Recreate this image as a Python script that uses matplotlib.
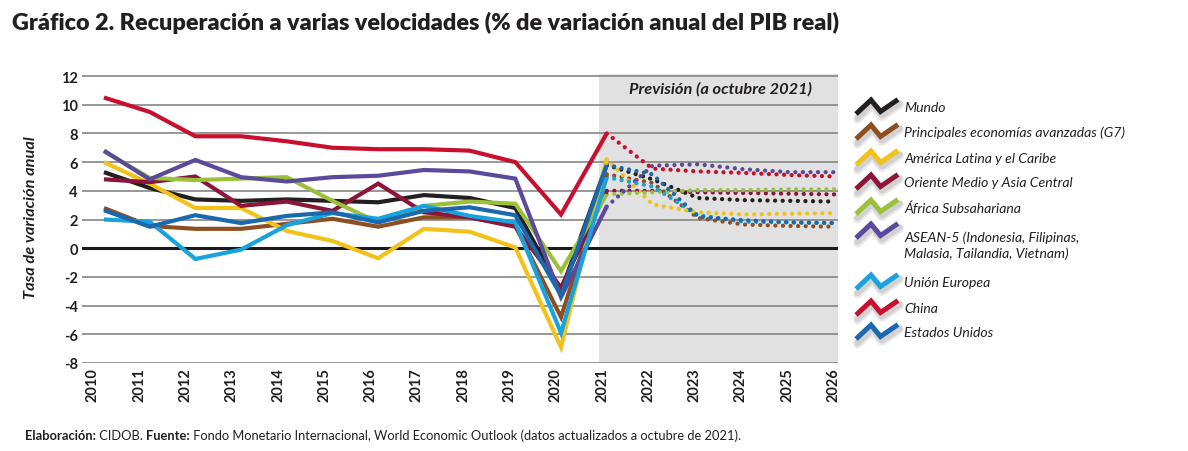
import matplotlib
matplotlib.use("Agg")
import matplotlib.pyplot as plt
from matplotlib import font_manager

# ---------------- data ----------------
years = list(range(2010, 2027))
forecast_start = 2021

series_names = [
    "Mundo",
    "Principales economías avanzadas (G7)",
    "América Latina y el Caribe",
    "Oriente Medio y Asia Central",
    "África Subsahariana",
    "ASEAN-5 (Indonesia, Filipinas,\nMalasia, Tailandia, Vietnam)",
    "Unión Europea",
    "China",
    "Estados Unidos",
]

mundo   = [5.3, 4.2, 3.4, 3.3, 3.4, 3.3, 3.2, 3.7, 3.5, 2.8, -3.0, 5.8, 4.8, 3.5, 3.35, 3.3, 3.25]
g7      = [2.8, 1.55, 1.35, 1.35, 1.7, 2.05, 1.5, 2.15, 2.15, 1.55, -4.8, 5.15, 4.55, 2.1, 1.65, 1.55, 1.5]
latam   = [6.0, 4.5, 2.8, 2.8, 1.2, 0.5, -0.7, 1.35, 1.15, 0.05, -6.9, 6.2, 3.05, 2.5, 2.35, 2.4, 2.45]
oriente = [4.8, 4.6, 5.0, 2.95, 3.25, 2.6, 4.5, 2.5, 2.15, 1.5, -2.75, 4.0, 4.0, 3.9, 3.85, 3.8, 3.75]
africa  = [6.75, 4.9, 4.75, 4.85, 4.95, 3.3, 1.8, 2.95, 3.25, 3.1, -1.6, 3.75, 3.9, 4.05, 4.05, 4.1, 4.1]
asean   = [6.8, 4.8, 6.15, 4.95, 4.65, 4.95, 5.05, 5.45, 5.35, 4.85, -3.4, 2.9, 5.75, 5.85, 5.5, 5.3, 5.3]
ue      = [2.0, 1.85, -0.75, -0.1, 1.6, 2.45, 2.05, 2.95, 2.25, 1.8, -5.9, 4.95, 4.3, 2.3, 1.85, 1.8, 1.75]
china   = [10.5, 9.5, 7.8, 7.8, 7.45, 7.0, 6.9, 6.9, 6.8, 6.0, 2.35, 8.0, 5.55, 5.35, 5.25, 5.1, 5.0]
eeuu    = [2.65, 1.5, 2.3, 1.75, 2.25, 2.5, 1.8, 2.6, 2.85, 2.3, -3.3, 5.8, 5.15, 2.2, 1.95, 1.8, 1.75]

series_values = [mundo, g7, latam, oriente, africa, asean, ue, china, eeuu]
series_colors = ["#231f20", "#8d4f22", "#f2c21b", "#8c1538", "#9cc03c",
                 "#5b4a9b", "#19a3de", "#c8102e", "#1a68ad"]
draw_order = [6, 8, 1, 2, 4, 5, 0, 3, 7]

yticks = list(range(-8, 13, 2))
title = "Gráfico 2. Recuperación a varias velocidades (% de variación anual del PIB real)"
ylabel = "Tasa de variación anual"
forecast_label = "Previsión (a octubre 2021)"
footer_parts = [("Elaboración:", "bold"), (" CIDOB. ", "normal"), ("Fuente:", "bold"),
                (" Fondo Monetario Internacional, World Economic Outlook (datos actualizados a octubre de 2021).", "normal")]

# ---------------- fonts ----------------
names = {f.name for f in font_manager.fontManager.ttflist}
body = "Lato" if "Lato" in names else "DejaVu Sans"
plt.rcParams["font.family"] = [body, "DejaVu Sans"]

W, H = 1188, 452
fig = plt.figure(figsize=(W / 100, H / 100), dpi=100)

ax = fig.add_axes([82 / W, 1 - 364 / H, (838 - 82) / W, (364 - 75) / H])
ax.set_xlim(2009.52, 2026.06)
ax.set_ylim(-8, 12.14)
ax.axvspan(2020.83, 2026.06, color="#e1e1e1", lw=0, zorder=0)
for v in yticks:
    if v != 0:
        ax.axhline(v, color="#858585", lw=1.2, zorder=1)
ax.axhline(0, color="#1a1a1a", lw=2.2, zorder=2)

for s in ax.spines.values():
    s.set_visible(False)

ax.set_yticks(yticks)
ax.set_yticklabels([str(v) for v in yticks], fontsize=10.5, fontweight="bold", color="#231f20")
xt = [2009.76 + 1.0125 * i for i in range(len(years))]
ax.set_xticks(xt)
ax.set_xticklabels([str(y) for y in years], rotation=90, fontsize=10.5,
                   fontweight="bold", color="#231f20")
ax.tick_params(length=0, pad=3)

k = years.index(forecast_start)
for i in draw_order:
    vals = series_values[i]
    c = series_colors[i]
    ax.plot(years[:k + 1], vals[:k + 1], color=c, lw=3.0, solid_joinstyle="miter",
            solid_capstyle="butt", zorder=5 + i * 0.1)
    ax.plot(years[k:], vals[k:], color=c, lw=3.1, linestyle=(0, (0.01, 1.75)),
            dash_capstyle="round", zorder=4 + i * 0.1)

ax.text(2023.48, 11.16, forecast_label, ha="center", va="center", fontsize=11.8,
        fontweight="bold", fontstyle="italic", color="#231f20", zorder=6)

# y label
fig.text(31 / W, 1 - 218 / H, ylabel, rotation=90, ha="center", va="center",
         fontsize=11.8, fontweight="bold", fontstyle="italic", color="#231f20")

# title
fig.text(12 / W, 1 - 23 / H, title, ha="left", va="center", fontsize=16.8,
         fontweight="heavy", color="#231f20")

# ---------------- legend (overlay in pixel coords) ----------------
ov = fig.add_axes([0, 0, 1, 1], zorder=10)
ov.set_xlim(0, W)
ov.set_ylim(H, 0)
ov.axis("off")
ov.patch.set_alpha(0)

row_y = [108, 133, 159, 183, 208, 232, 283, 309, 333]
icon_dx = [0, 15, 24.5, 42]
icon_dy = [7, -7, 4.5, -7.5]
for i, (name, c, cy) in enumerate(zip(series_names, series_colors, row_y)):
    x0 = 856
    xs = [x0 + d for d in icon_dx]
    ys = [cy + d for d in icon_dy]
    for off, a, lw in [(5, 0.18, 6.5), (4, 0.25, 4.5)]:
        ov.plot([x + 1.5 for x in xs], [y + off for y in ys], color="#8a8a8a", alpha=a,
                lw=lw, solid_joinstyle="round", solid_capstyle="round")
    ov.plot(xs, ys, color=c, lw=3.6, solid_joinstyle="miter", solid_capstyle="butt")
    ty = cy if "\n" not in name else cy + 14
    ov.text(904, ty, name, ha="left", va="center", fontsize=10.05, fontstyle="italic",
            color="#231f20", linespacing=1.3)

# ---------------- footer ----------------
fig.canvas.draw()
r = fig.canvas.get_renderer()
x = 25
for txt, wt in footer_parts:
    t = ov.text(x, 436, txt, ha="left", va="center", fontsize=9.25, fontweight=wt,
                color="#231f20")
    bb = t.get_window_extent(renderer=r)
    x += bb.width

fig.savefig("out.png", dpi=100)
